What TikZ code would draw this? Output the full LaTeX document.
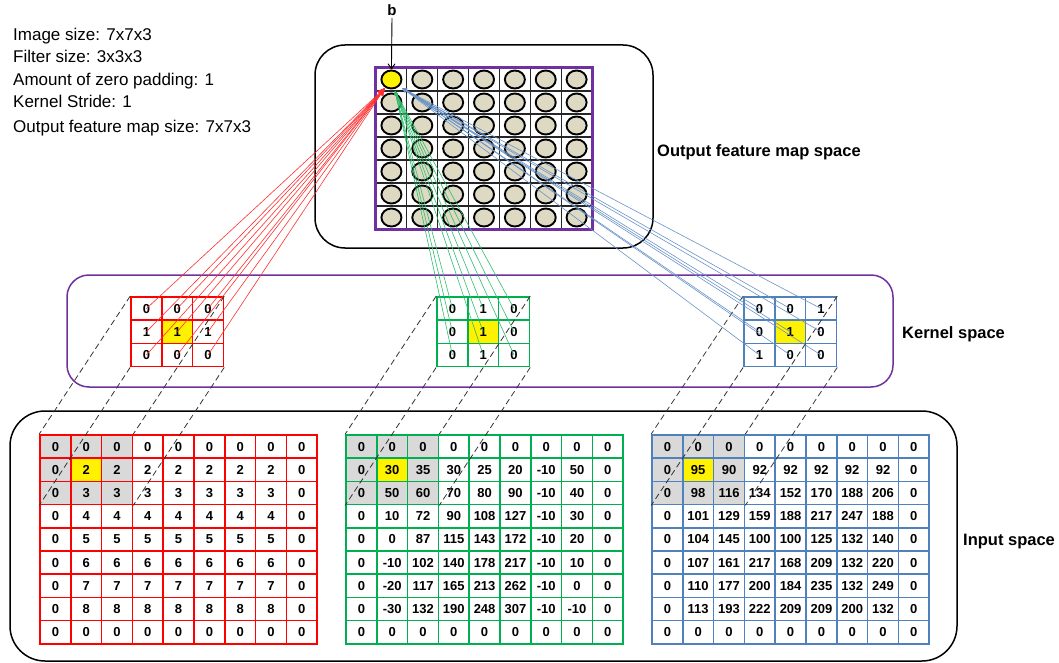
\documentclass[tikz,border=0pt]{standalone}
\usepackage{fontspec}
\setmainfont{Liberation Sans}
\usetikzlibrary{arrows.meta,shapes.geometric}

\definecolor{kred}{HTML}{FF0000}
\definecolor{kgreen}{HTML}{00B050}
\definecolor{kblue}{HTML}{4F81BD}
\definecolor{kpurple}{HTML}{7030A0}
\definecolor{cellgray}{HTML}{D9D9D9}
\definecolor{neuronfill}{HTML}{DDD9C3}
\definecolor{rayred}{HTML}{FF3030}
\definecolor{raygreen}{HTML}{2EBD6B}
\definecolor{rayblue}{HTML}{6A93C9}

% grid of numbered cells: #1 name prefix, #2 colour, #3 left x, #4 top y,
% #5 shade the 3x3 window (1) or not (0), #6 rows of values
\newcommand\numgrid[6]{%
  \foreach \row [count=\r] in {#6} {
    \foreach \v [count=\c] in \row {
      \def\cellfill{white}
      \ifnum#5=1 \ifnum\r<4 \ifnum\c<4 \def\cellfill{cellgray}\fi\fi\fi
      \ifnum\r=2 \ifnum\c=2 \def\cellfill{yellow}\fi\fi
      \node[cell, draw=#2, fill=\cellfill] (#1-\r-\c)
        at ({#3+(\c-0.5)*30.8}, {#4+(\r-0.5)*23.2}) {\v};
    }
  }
}

\tikzset{
  cell/.style={rectangle, inner sep=0pt, minimum width=30.8pt, minimum height=23.2pt,
    line width=1.7pt, font=\bfseries\fontsize{13}{13}\selectfont},
  ocell/.style={rectangle, inner sep=0pt, minimum width=30.86pt, minimum height=23pt,
    draw=black!85, line width=1.2pt},
  neuron/.style={ellipse, inner sep=0pt, minimum width=20pt, minimum height=18pt,
    draw=black, line width=1.9pt},
  frustum/.style={draw=black!80, line width=0.8pt, dash pattern=on 6pt off 3.5pt},
  ray/.style={line width=0.6pt},
  info/.style={anchor=base west, inner sep=0pt, font=\fontsize{17}{17}\selectfont},
  spacelabel/.style={anchor=base west, inner sep=0pt, font=\bfseries\fontsize{16.5}{16.5}\selectfont},
  spacebox/.style={line width=1.5pt, rounded corners=#1},
}

\begin{document}
\begin{tikzpicture}[x=1pt, y=-1pt]
\useasboundingbox (0,0) rectangle (1059,663);

% the three spaces
\draw[spacebox=30pt, black] (315,45) rectangle (653,248);
\draw[spacebox=22pt, kpurple] (67,275) rectangle (893,387);
\draw[spacebox=35pt, black] (10,411) rectangle (957,661);

% padded input channels
\numgrid{ri}{kred}{40}{435}{1}{
  {0,0,0,0,0,0,0,0,0},{0,2,2,2,2,2,2,2,0},{0,3,3,3,3,3,3,3,0},
  {0,4,4,4,4,4,4,4,0},{0,5,5,5,5,5,5,5,0},{0,6,6,6,6,6,6,6,0},
  {0,7,7,7,7,7,7,7,0},{0,8,8,8,8,8,8,8,0},{0,0,0,0,0,0,0,0,0}}
\numgrid{gi}{kgreen}{346}{435}{1}{
  {0,0,0,0,0,0,0,0,0},{0,30,35,30,25,20,-10,50,0},{0,50,60,70,80,90,-10,40,0},
  {0,10,72,90,108,127,-10,30,0},{0,0,87,115,143,172,-10,20,0},
  {0,-10,102,140,178,217,-10,10,0},{0,-20,117,165,213,262,-10,0,0},
  {0,-30,132,190,248,307,-10,-10,0},{0,0,0,0,0,0,0,0,0}}
\numgrid{bi}{kblue}{652}{435}{1}{
  {0,0,0,0,0,0,0,0,0},{0,95,90,92,92,92,92,92,0},{0,98,116,134,152,170,188,206,0},
  {0,101,129,159,188,217,247,188,0},{0,104,145,100,100,125,132,140,0},
  {0,107,161,217,168,209,132,220,0},{0,110,177,200,184,235,132,249,0},
  {0,113,193,222,209,209,200,132,0},{0,0,0,0,0,0,0,0,0}}

% kernels
\numgrid{rk}{kred}{131}{297}{0}{{0,0,0},{1,1,1},{0,0,0}}
\numgrid{gk}{kgreen}{437}{297}{0}{{0,1,0},{0,1,0},{0,1,0}}
\numgrid{bk}{kblue}{744}{297}{0}{{0,0,1},{0,1,0},{1,0,0}}

% receptive field of each kernel on its input channel
\foreach \k/\i in {rk/ri, gk/gi, bk/bi} {
  \draw[frustum] (\k-1-1.north west) -- (\i-1-1.north west);
  \draw[frustum] (\k-1-3.north east) -- (\i-1-3.north east);
  \draw[frustum] (\k-3-1.south west) -- (\i-3-1.south west);
  \draw[frustum] (\k-3-3.south east) -- (\i-3-3.south east);
}

% output feature map
\foreach \r in {1,...,7} {
  \foreach \c in {1,...,7} {
    \def\nfill{neuronfill}
    \ifnum\r=1 \ifnum\c=1 \def\nfill{yellow}\fi\fi
    \node[ocell] (o-\r-\c) at ({376+(\c-0.5)*30.86}, {68+(\r-0.5)*23}) {};
    \node[neuron, fill=\nfill] (n-\r-\c) at (o-\r-\c.center) {};
  }
}
\draw[kpurple, line width=2.8pt] (o-1-1.north west) rectangle (o-7-7.south east);

% kernel weights feeding the first output unit
\coordinate (redtip) at (385,88);
\coordinate (greentip) at (395,91);
\coordinate (bluetip) at (402,88);
\foreach \r in {1,2,3} {
  \foreach \c in {1,2,3} {
    \draw[ray, draw=rayred, -{Stealth[length=8pt,width=6pt]}] (rk-\r-\c.center) -- (redtip);
    \draw[ray, draw=raygreen, -{Stealth[length=4pt,width=3pt]}] (gk-\r-\c.center) -- (greentip);
    \draw[ray, draw=rayblue, -{Stealth[length=5pt,width=4pt]}] (bk-\r-\c.center) -- (bluetip);
  }
}

% bias
\node[anchor=base, inner sep=1.5pt, font=\bfseries\fontsize{15}{15}\selectfont] (bias) at (392,16) {b};
\draw[line width=0.9pt, -{Straight Barb[length=5pt,width=7pt]}] (bias.south) -- (n-1-1.north);

% settings
\node[info] (info1) at (13,41) {Image size: 7x7x3};
\node[info] (info2) at (13,63) {Filter size: 3x3x3};
\node[info] (info3) at (13,86) {Amount of zero padding: 1};
\node[info] (info4) at (13,108) {Kernel Stride: 1};
\node[info] (info5) at (13,133) {Output feature map size: 7x7x3};

% space names
\node[spacelabel] (outlabel) at (657,157) {Output feature map space};
\node[spacelabel] (kerlabel) at (902,338) {Kernel space};
\node[spacelabel] (inlabel) at (963,545) {Input space};
\end{tikzpicture}
\end{document}
